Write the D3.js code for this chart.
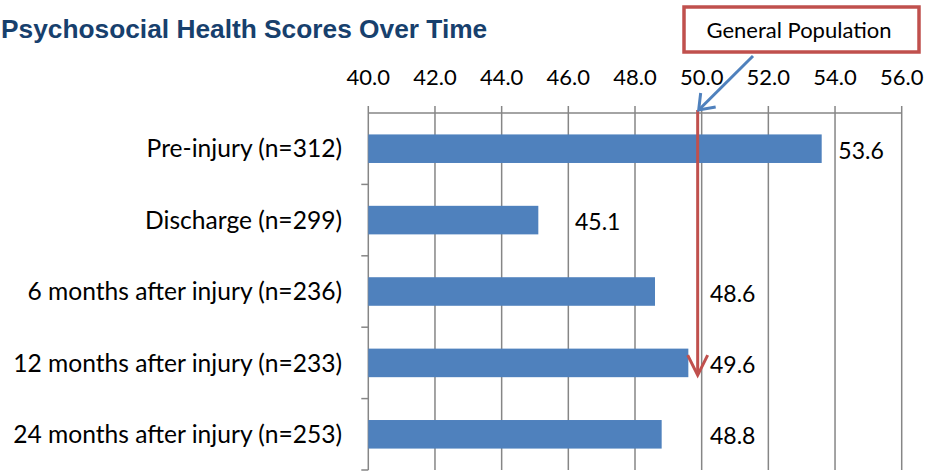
<!DOCTYPE html>
<html>
<head>
<meta charset="utf-8">
<script src="https://cdn.jsdelivr.net/npm/d3@7"></script>
<style>
  body { margin: 0; background: #fff; }
  svg { display: block; }
</style>
</head>
<body>
<svg id="chart"></svg>
<script>
// data
var categories = ["Pre-injury (n=312)", "Discharge (n=299)", "6 months after injury (n=236)",
                  "12 months after injury (n=233)", "24 months after injury (n=253)"];
var scores = [53.6, 45.1, 48.6, 49.6, 48.8];
// where each value label sits, in score units
var labelAt = [54.1, 46.2, 50.25, 50.25, 50.25];
var xTicks = [40, 42, 44, 46, 48, 50, 52, 54, 56];
var genPop = 50;

var width = 940,
	height = 474,
	plotLeft = 368.3,
	plotRight = 901.7,
	plotTop = 113,
	plotBottom = 470;

var svg = d3.select("#chart")
	.attr("width", width)
	.attr("height", height);

var x = d3.scaleLinear().domain([40, 56]).range([plotLeft, plotRight]);
var y = d3.scaleBand().domain(categories).range([plotTop, plotBottom])
	.paddingInner(0.6).paddingOuter(0.3);

var grey = "#868686",
	labelFont = "Lato, 'Open Sans', sans-serif";

// gridlines
svg.append("g").selectAll("line")
	.data(xTicks.slice(1))
	.enter().append("line")
	.attr("x1", function(d){ return x(d); })
	.attr("x2", function(d){ return x(d); })
	.attr("y1", plotTop - 7)
	.attr("y2", plotBottom)
	.attr("stroke", grey)
	.attr("stroke-width", 1.5);

// top axis line + labels
svg.append("line")
	.attr("x1", plotLeft).attr("x2", plotRight)
	.attr("y1", plotTop).attr("y2", plotTop)
	.attr("stroke", grey).attr("stroke-width", 1.5);

svg.append("g").selectAll("text")
	.data(xTicks)
	.enter().append("text")
	.attr("x", function(d){ return x(d); })
	.attr("y", 85)
	.attr("text-anchor", "middle")
	.attr("font-family", labelFont)
	.attr("font-size", 22)
	.attr("fill", "#000")
	.text(function(d){ return d.toFixed(1); });

// left axis
svg.append("line")
	.attr("x1", plotLeft).attr("x2", plotLeft)
	.attr("y1", plotTop - 7).attr("y2", plotBottom)
	.attr("stroke", grey).attr("stroke-width", 1.5);

var step = y.step();
svg.append("g").selectAll("line")
	.data(d3.range(1, categories.length + 1))
	.enter().append("line")
	.attr("x1", plotLeft - 7).attr("x2", plotLeft)
	.attr("y1", function(i){ return plotTop + i * step; })
	.attr("y2", function(i){ return plotTop + i * step; })
	.attr("stroke", grey).attr("stroke-width", 1.5);

// bars
svg.append("g").selectAll("rect")
	.data(scores)
	.enter().append("rect")
	.attr("x", plotLeft)
	.attr("y", function(d, i){ return y(categories[i]); })
	.attr("width", function(d){ return x(d) - plotLeft; })
	.attr("height", y.bandwidth())
	.attr("fill", "#4F81BD");

// category labels
svg.append("g").selectAll("text")
	.data(categories)
	.enter().append("text")
	.attr("x", 342)
	.attr("y", function(d){ return y(d) + y.bandwidth() / 2; })
	.attr("dy", "0.35em")
	.attr("text-anchor", "end")
	.attr("font-family", labelFont)
	.attr("font-size", 24.6)
	.attr("fill", "#000")
	.text(function(d){ return d; });

// value labels
svg.append("g").selectAll("text")
	.data(scores)
	.enter().append("text")
	.attr("x", function(d, i){ return x(labelAt[i]); })
	.attr("y", function(d, i){ return y(categories[i]) + y.bandwidth() / 2 + 2; })
	.attr("dy", "0.35em")
	.attr("font-family", labelFont)
	.attr("font-size", 23)
	.attr("fill", "#000")
	.text(function(d){ return d.toFixed(1); });

// general population marker
var red = "#C0504D",
	gx = x(genPop) - 4,
	tipY = y(categories[3]) + y.bandwidth() - 2;

svg.append("line")
	.attr("x1", gx).attr("x2", gx)
	.attr("y1", plotTop - 3).attr("y2", tipY - 2)
	.attr("stroke", red).attr("stroke-width", 3);
svg.append("path")
	.attr("d", "M" + (gx - 10) + "," + (tipY - 20) + "L" + gx + "," + tipY + "L" + (gx + 10) + "," + (tipY - 20))
	.attr("fill", "none")
	.attr("stroke", red)
	.attr("stroke-width", 3);

// callout
svg.append("rect")
	.attr("x", 684).attr("y", 7)
	.attr("width", 235).attr("height", 45)
	.attr("fill", "#fff")
	.attr("stroke", red)
	.attr("stroke-width", 3.5);
svg.append("text")
	.attr("x", 799).attr("y", 30)
	.attr("dy", "0.35em")
	.attr("text-anchor", "middle")
	.attr("font-family", labelFont)
	.attr("font-size", 22)
	.attr("fill", "#000")
	.text("General Population");

var blue = "#4F81BD";
svg.append("line")
	.attr("x1", 753).attr("y1", 56)
	.attr("x2", gx + 2).attr("y2", plotTop - 4)
	.attr("stroke", blue).attr("stroke-width", 3);
svg.append("path")
	.attr("d", "M" + (gx + 3) + "," + (plotTop - 20) + "L" + (gx + 1) + "," + (plotTop - 3) + "L" + (gx + 18) + "," + (plotTop - 6))
	.attr("fill", "none")
	.attr("stroke", blue)
	.attr("stroke-width", 3);

// title
svg.append("text")
	.attr("x", 1).attr("y", 38)
	.attr("font-family", "'Liberation Sans', Arial, sans-serif")
	.attr("font-weight", "bold")
	.attr("font-size", 26.3)
	.attr("fill", "#17406D")
	.text("Psychosocial Health Scores Over Time");
</script>
</body>
</html>
